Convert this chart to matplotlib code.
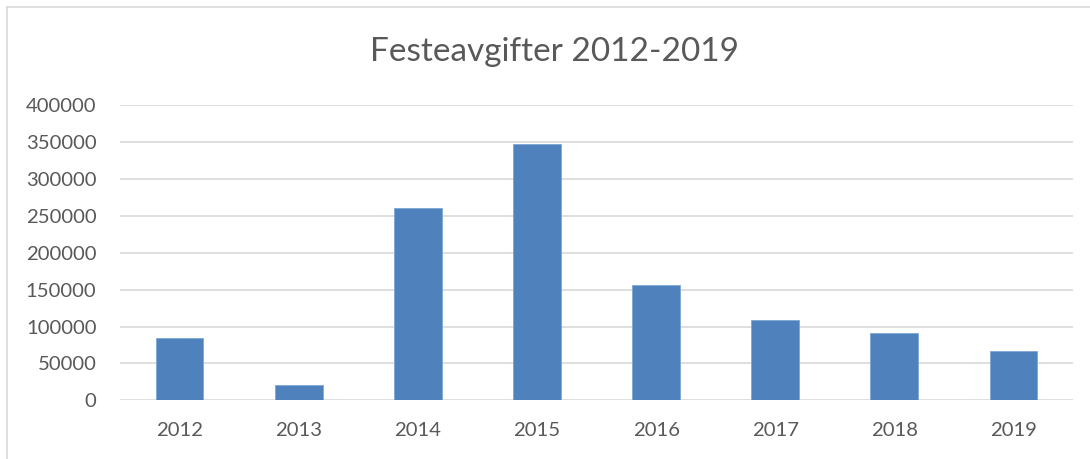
import numpy as np
import matplotlib
matplotlib.use('Agg')
import matplotlib.pyplot as plt
from matplotlib.lines import Line2D

# Data
years = ['2012', '2013', '2014', '2015', '2016', '2017', '2018', '2019']
fees = [84500, 20300, 260800, 347000, 156800, 109000, 91800, 66500]
y_ticks = [0, 50000, 100000, 150000, 200000, 250000, 300000, 350000, 400000]

TEXT_COLOR = '#595959'
GRID_COLOR = '#D9D9D9'
BAR_COLOR = '#4F81BD'

plt.rcParams['font.family'] = ['Lato', 'DejaVu Sans']

W, H = 1090, 459
fig = plt.figure(figsize=(W / 100, H / 100), dpi=100)
fig.patch.set_facecolor('white')

# plot area in pixel coords
left, right, top, bottom = 120, 1073, 105.3, 400.3
ax = fig.add_axes([left / W, 1 - bottom / H, (right - left) / W, (bottom - top) / H])

x = np.arange(len(years))
ax.bar(x, fees, width=0.4, color=BAR_COLOR, edgecolor='#7EA6D6', linewidth=0.6, zorder=3)

ax.set_xlim(-0.5, len(years) - 0.5)
ax.set_ylim(0, 400000)
ax.set_yticks(y_ticks)
ax.set_yticklabels([str(v) for v in y_ticks])
ax.set_xticks(x)
ax.set_xticklabels(years)

ax.yaxis.grid(True, color=GRID_COLOR, linewidth=1.2, zorder=0)
ax.set_axisbelow(True)
for s in ax.spines.values():
    s.set_visible(False)
ax.tick_params(axis='both', length=0, labelsize=14.6, colors=TEXT_COLOR)
ax.tick_params(axis='y', pad=17)
ax.tick_params(axis='x', pad=15.5)

fig.text(555 / W, 1 - 52 / H, 'Festeavgifter 2012-2019', ha='center', va='center',
         fontsize=24, color=TEXT_COLOR)

# outer chart frame (only top and left edges visible)
fig.add_artist(Line2D([7 / W, 7 / W], [0, 1 - 7 / H], color=GRID_COLOR, linewidth=1.2))
fig.add_artist(Line2D([7 / W, 1], [1 - 7 / H, 1 - 7 / H], color=GRID_COLOR, linewidth=1.2))

fig.savefig('out.png', dpi=100, facecolor='white')
